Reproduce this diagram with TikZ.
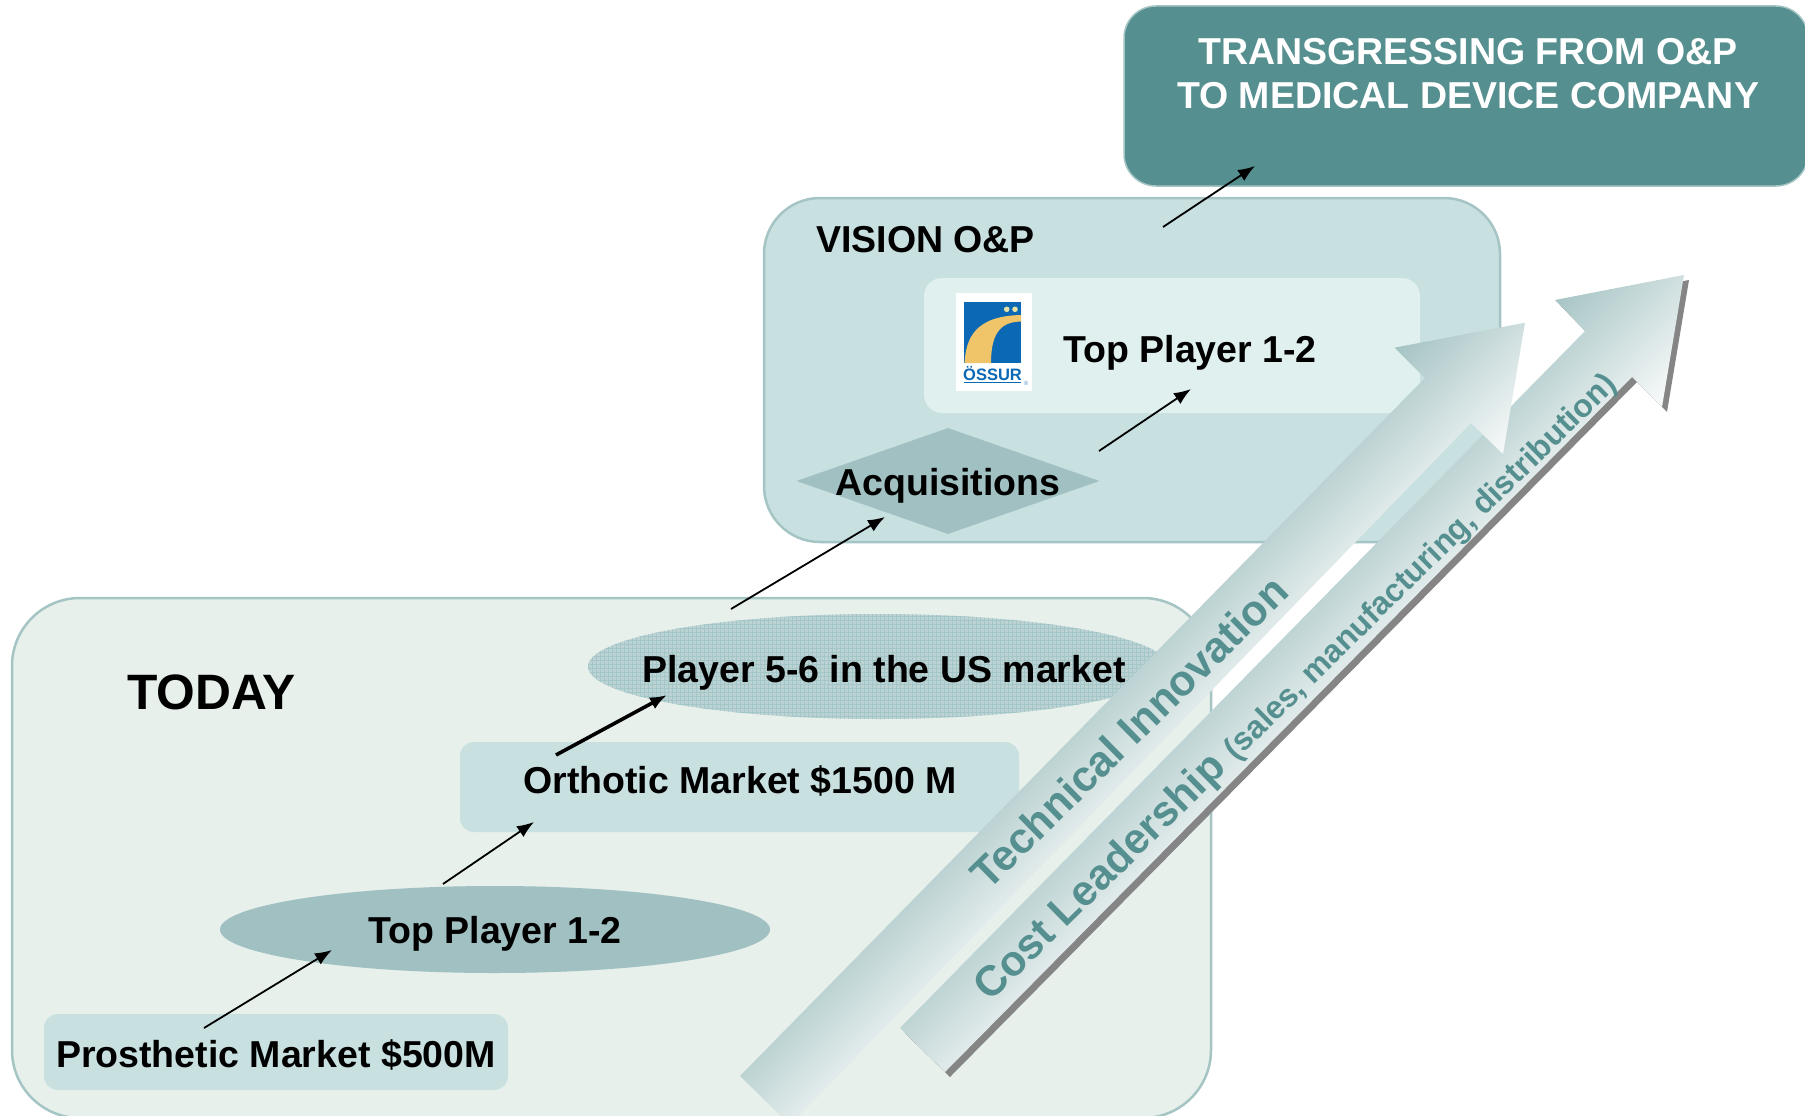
\documentclass[tikz,border=0pt]{standalone}
\usepackage{fontspec}
\setmainfont{Liberation Sans}
\usetikzlibrary{arrows.meta,shapes.geometric}
\definecolor{teal}{HTML}{558F8F}
\definecolor{todayfill}{HTML}{E7F0EB}
\definecolor{edgeline}{HTML}{A5C4C4}
\definecolor{pale}{HTML}{C9E0E0}
\definecolor{inner}{HTML}{DFF0EE}
\definecolor{midteal}{HTML}{A0C0C2}
\definecolor{gridbase}{HTML}{BDD3D3}
\definecolor{gridline}{HTML}{A3C6C8}
\definecolor{arrowdark}{HTML}{A5C3C3}
\definecolor{arrowlight}{HTML}{FAFBFB}
\definecolor{shadowgrey}{HTML}{858585}
\definecolor{ossurblue}{HTML}{0A68B4}
\definecolor{ossuryellow}{HTML}{F0C468}
\definecolor{ossurdot}{HTML}{E4E3A4}
\pgfdeclareverticalshading{bigarrow}{100bp}{color(0bp)=(arrowlight); color(35bp)=(arrowlight); color(65bp)=(arrowdark); color(100bp)=(arrowdark)}
\newcommand{\bigtext}{\fontsize{37.5}{44.5}\selectfont\bfseries}
\tikzset{
  x=1pt,y=-1pt,
  bigbox/.style={draw=edgeline,line width=2.5pt,inner sep=0pt},
  softbox/.style={fill=pale,rounded corners=14pt,inner sep=0pt},
  label/.style={font=\bigtext,inner sep=0pt,text=black},
  flow/.style={-{Latex[length=17pt,width=13pt]},line width=1.8pt,black},
  flowbold/.style={-{Latex[length=17pt,width=13pt]},line width=3.6pt,black},
  slanted/.style={text=teal,inner sep=0pt,anchor=base west,rotate=44.5},
}
\begin{document}
\begin{tikzpicture}
\useasboundingbox (0,0) rectangle (1805,1116);
\clip (0,0) rectangle (1805,1116);

% Containers
\node[bigbox,fill=todayfill,rounded corners=68pt,minimum width=1199pt,minimum height=520pt] (today) at (611.5,858) {};
\node[bigbox,fill=pale,rounded corners=56pt,minimum width=736pt,minimum height=344pt] (vision) at (1132,370) {};
\node[fill=teal,draw=edgeline,line width=1.5pt,rounded corners=32pt,minimum width=684pt,minimum height=180pt,inner sep=0pt] (goal) at (1466,96) {};
\node[font=\bigtext,text=white,align=center,inner sep=0pt] (goaltext) at (1468,73.5) {TRANSGRESSING FROM O\&P\\TO MEDICAL DEVICE COMPANY};

\node[label,anchor=west,font=\fontsize{49.7}{56}\selectfont\bfseries] (todaytext) at (127,692) {TODAY};
\node[label,anchor=west] (visiontext) at (816,240) {VISION O\&P};

% Inner panel with logo
\node[fill=inner,rounded corners=18pt,minimum width=496pt,minimum height=135pt,inner sep=0pt] (panel) at (1172,345.5) {};
\node[fill=white,minimum width=76pt,minimum height=98pt,inner sep=0pt] (logo) at (994,342) {};
\node[fill=ossurblue,minimum width=57pt,minimum height=61pt,inner sep=0pt] (logoblue) at (992.5,332.5) {};
\fill[ossuryellow] (964.5,363) .. controls (966,338) and (975,316) .. (1021,315) -- (1021,321.5) .. controls (1003,322) and (991,330) .. (991,363) -- cycle;
\fill[ossurdot] (1006.7,309.3) circle (2.8) (1015,309.3) circle (2.8);
\node[text=ossurblue,font=\fontsize{16.5}{18}\selectfont\bfseries,inner sep=0pt] (logotext) at (992.5,373.5) {ÖSSUR};
\draw[ossurblue,line width=1.4pt] (964,382.5) -- (1021,382.5);
\node[text=ossurblue!70!white,font=\fontsize{6}{7}\selectfont,inner sep=0pt] (logoreg) at (1026,383) {®};
\node[label] (visiontop) at (1190,352.5) {Top Player 1-2};

\node[diamond,fill=midteal,aspect=2.85,minimum width=303pt,minimum height=106pt,inner sep=0pt,shape aspect=2.85] (acq) at (948,481) {};
\node[label] (acqtext) at (948,486) {Acquisitions};

% Player ellipse with woven fill
\begin{scope}
\clip (878,666.5) ellipse [x radius=290,y radius=52.5];
\fill[gridbase] (585,610) rectangle (1170,720);
\draw[gridline,line width=0.7pt,step=4pt] (585,610) grid (1170,720);
\end{scope}
\node[ellipse,minimum width=580pt,minimum height=105pt,inner sep=0pt] (player) at (878,666.5) {};
\node[label] (playertext) at (884,672.5) {Player 5-6 in the US market};

\node[softbox,minimum width=559pt,minimum height=90pt] (orthotic) at (739.5,787) {};
\node[label] (orthotictext) at (740,781) {Orthotic Market \$1500 M};
\node[ellipse,fill=midteal,minimum width=550pt,minimum height=87pt,inner sep=0pt] (topplayer) at (495,929.5) {};
\node[label] (topplayertext) at (495,934) {Top Player 1-2};
\node[softbox,minimum width=464pt,minimum height=76pt] (prosthetic) at (276,1052) {};
\node[label] (prosthetictext) at (276,1054.5) {Prosthetic Market \$500M};

% Big arrows
\fill[shadowgrey,shift={(5,5)}] (900,1028) -- (1585,331) -- (1555,300) -- (1684,275) -- (1662,407) -- (1632,377) -- (945,1072) -- cycle;
\begin{scope}
\clip (900,1028) -- (1585,331) -- (1555,300) -- (1684,275) -- (1662,407) -- (1632,377) -- (945,1072) -- cycle;
\begin{scope}[transform canvas={shift={(922,1050)},rotate=45.5}]
\shade[shading=bigarrow] (-150,-130) rectangle (1200,130);
\end{scope}
\end{scope}
\begin{scope}
\clip (740,1076) -- (1425,378) -- (1394.5,347.7) -- (1525,322.7) -- (1503,454) -- (1471,423) -- (790,1125) -- cycle;
\begin{scope}[transform canvas={shift={(765,1100)},rotate=45.5}]
\shade[shading=bigarrow] (-150,-130) rectangle (1200,130);
\end{scope}
\end{scope}

\node[slanted,font=\fontsize{43}{50}\selectfont\bfseries] (techtext) at (988,892) {Technical Innovation};
\node[slanted,font=\fontsize{42.5}{50}\selectfont\bfseries] (costtext) at (990,1003) {Cost Leadership {\fontsize{32}{40}\selectfont(sales, manufacturing, distribution)}};

% Connectors
\coordinate (a1s) at (204,1028); \coordinate (a1e) at (332,950);
\coordinate (a2s) at (443,884);  \coordinate (a2e) at (534,822);
\coordinate (a3s) at (556,755);  \coordinate (a3e) at (667,695);
\coordinate (a4s) at (731,609);  \coordinate (a4e) at (885,517);
\coordinate (a5s) at (1099,451); \coordinate (a5e) at (1191,389);
\coordinate (a6s) at (1163,227); \coordinate (a6e) at (1255,166);
\draw[flow] (a1s) -- (a1e);
\draw[flow] (a2s) -- (a2e);
\draw[flowbold] (a3s) -- (a3e);
\draw[flow] (a4s) -- (a4e);
\draw[flow] (a5s) -- (a5e);
\draw[flow] (a6s) -- (a6e);
\end{tikzpicture}
\end{document}
